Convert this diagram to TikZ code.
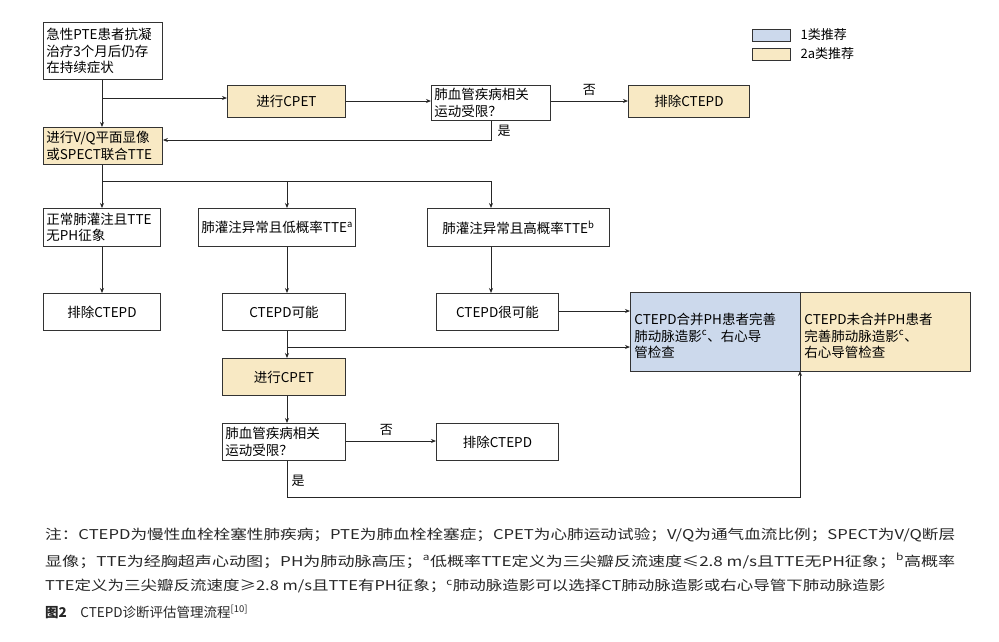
\documentclass[tikz,border=0pt]{standalone}
\usepackage{fontspec}
\usepackage{graphicx}
\setmainfont{Noto Sans CJK SC}
\usetikzlibrary{arrows.meta}
\definecolor{beige}{HTML}{F8E9C4}
\definecolor{lblue}{HTML}{CCD9EC}
\begin{document}
\begin{tikzpicture}[x=1pt,y=-1pt,
 box/.style={draw=black!80,line width=0.9pt,inner sep=3pt,font=\fontsize{13.5}{16.5}\selectfont},
 ar/.style={draw=black!85,line width=1pt,-{Stealth[length=5pt,width=4pt]}},
 ln/.style={draw=black!85,line width=1pt},
 lab/.style={font=\fontsize{13}{15}\selectfont}]
\useasboundingbox (0,0) rectangle (999,641);
% boxes
\node[box,anchor=north west,minimum width=119,minimum height=57,text width=113,align=left] (s) at (43,22) {急性PTE患者抗凝\\治疗3个月后仍存\\在持续症状};
\node[box,fill=beige,anchor=north west,minimum width=118,minimum height=32,align=center] (c1) at (227,85) {进行CPET};
\node[box,anchor=north west,minimum width=119,minimum height=32,text width=113,align=left] (q1) at (431,85) {肺血管疾病相关\\运动受限？};
\node[box,fill=beige,anchor=north west,minimum width=121,minimum height=32,align=center] (e1) at (628,85) {排除CTEPD};
\node[box,fill=beige,anchor=north west,minimum width=119,minimum height=37,text width=113,align=left] (vq) at (43,127) {进行V/Q平面显像\\或SPECT联合TTE};
\node[box,anchor=north west,minimum width=117,minimum height=38,text width=111,align=left] (n) at (43,208) {正常肺灌注且TTE\\无PH征象};
\node[box,anchor=north west,minimum width=151,minimum height=38,align=center] (lo) at (198,208) {肺灌注异常且低概率TTE\textsuperscript{a}};
\node[box,anchor=north west,minimum width=182,minimum height=38,align=center] (hi) at (427,208) {肺灌注异常且高概率TTE\textsuperscript{b}};
\node[box,anchor=north west,minimum width=117,minimum height=37,align=center] (e0) at (43,293) {排除CTEPD};
\node[box,anchor=north west,minimum width=123,minimum height=37,align=center] (p) at (222,293) {CTEPD可能};
\node[box,anchor=north west,minimum width=122,minimum height=37,align=center] (vp) at (436,293) {CTEPD很可能};
\node[box,fill=lblue,anchor=north west,minimum width=170,minimum height=79,text width=162,align=left,text depth=26pt] (bl) at (630,292) {CTEPD合并PH患者完善\\肺动脉造影\textsuperscript{c}、右心导\\管检查};
\node[box,fill=beige,anchor=north west,minimum width=170,minimum height=79,text width=162,align=left,text depth=26pt] (be) at (800,292) {CTEPD未合并PH患者\\完善肺动脉造影\textsuperscript{c}、\\右心导管检查};
\node[box,fill=beige,anchor=north west,minimum width=123,minimum height=37,align=center] (c2) at (222,358) {进行CPET};
\node[box,anchor=north west,minimum width=123,minimum height=37,text width=117,align=left] (q2) at (222,423) {肺血管疾病相关\\运动受限？};
\node[box,anchor=north west,minimum width=122,minimum height=37,align=center] (e2) at (436,423) {排除CTEPD};
% legend
\node[draw=black!80,fill=lblue,minimum width=38,minimum height=12,inner sep=0,anchor=north west] (lg1) at (752,29) {};
\node[draw=black!80,fill=beige,minimum width=38,minimum height=12,inner sep=0,anchor=north west] (lg2) at (752,48) {};
\node[lab,anchor=west] (lt1) at (797,35) {1类推荐};
\node[lab,anchor=west] (lt2) at (797,54) {2a类推荐};
% connectors
\coordinate (j1) at (102,98);
\draw[ar] (s.south -| j1) -- (vq.north -| j1);
\draw[ar] (j1) -- (c1.west |- j1);
\draw[ar] (c1.east |- 0,101) -- (q1.west |- 0,101);
\draw[ar] (q1.east |- 0,101) -- node[lab,above=2pt]{否} (e1.west |- 0,101);
\coordinate (y1) at (491,140);
\draw[ar] (q1.south -| y1) -- (y1) -- (vq.east |- y1);
\node[lab] (is1) at (504,131) {是};
\coordinate (j2) at (102,181);
\draw[ln] (vq.south -| j2) -- (j2) -- (491,181);
\draw[ar] (j2) -- (n.north -| j2);
\draw[ar] (287,181) -- (lo.north -| 287,0);
\draw[ar] (491,181) -- (hi.north -| 491,0);
\draw[ar] (n.south -| 102,0) -- (e0.north -| 102,0);
\draw[ar] (lo.south -| 287,0) -- (p.north -| 287,0);
\draw[ar] (hi.south -| 491,0) -- (vp.north -| 491,0);
\draw[ar] (vp.east |- 0,311) -- (bl.west |- 0,311);
\coordinate (j3) at (287,347);
\draw[ar] (p.south -| j3) -- (c2.north -| j3);
\draw[ar] (j3) -- (bl.west |- j3);
\draw[ar] (c2.south -| 287,0) -- (q2.north -| 287,0);
\draw[ar] (q2.east |- 0,441) -- node[lab,above=2pt,pos=0.45]{否} (e2.west |- 0,441);
\coordinate (b1) at (287,497);
\coordinate (b2) at (800,497);
\draw[ar] (q2.south -| b1) -- (b1) -- (b2) -- (800,371);
\node[lab] (is2) at (298,481) {是};
% caption
\begin{scope}[every node/.style={anchor=west,inner sep=0,font=\fontsize{13.5}{15}\selectfont,color=black!85}]
\node (t1) at (45,535) {\resizebox{910pt}{\height}{注：CTEPD为慢性血栓栓塞性肺疾病；PTE为肺血栓栓塞症；CPET为心肺运动试验；V/Q为通气血流比例；SPECT为V/Q断层}};
\node (t2) at (45,561) {\resizebox{910pt}{\height}{显像；TTE为经胸超声心动图；PH为肺动脉高压；\textsuperscript{a}低概率TTE定义为三尖瓣反流速度≤2.8 m/s且TTE无PH征象；\textsuperscript{b}高概率}};
\node (t3) at (45,586) {\resizebox{840pt}{\height}{TTE定义为三尖瓣反流速度≥2.8 m/s且TTE有PH征象；\textsuperscript{c}肺动脉造影可以选择CT肺动脉造影或右心导管下肺动脉造影}};
\node (t4) at (45,612) {\textbf{图2}\quad CTEPD诊断评估管理流程\textsuperscript{[10]}};
\end{scope}
\end{tikzpicture}
\end{document}
